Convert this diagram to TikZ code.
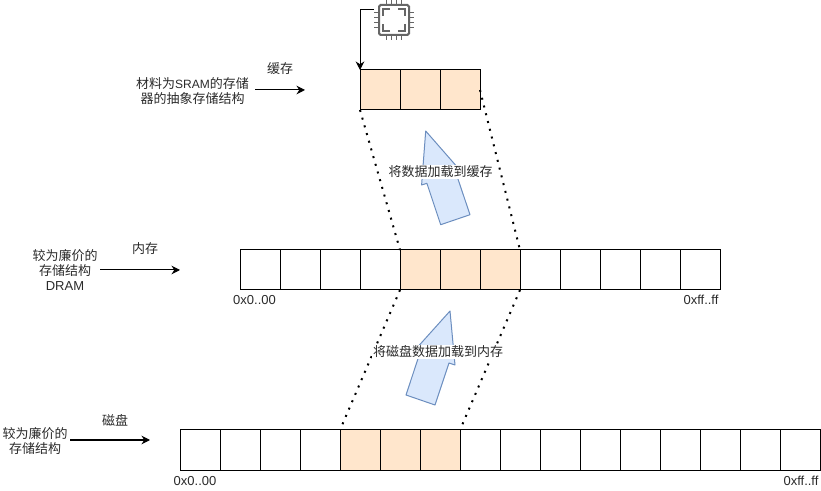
\documentclass[tikz,border=0pt]{standalone}
\usepackage{fontspec}
\setmainfont{Liberation Sans}
\newfontfamily\cjk{Noto Sans CJK SC}
\usetikzlibrary{arrows.meta}
\definecolor{cellfill}{HTML}{FFE6CC}
\definecolor{arrowfill}{HTML}{DAE8FC}
\definecolor{arrowline}{HTML}{6C8EBF}
\definecolor{chipgray}{HTML}{666666}
\definecolor{txt}{HTML}{2A2A2A}
\tikzset{
  cellbox/.style={draw=black,line width=.75pt,fill=white,minimum width=30pt,minimum height=30pt,inner sep=0pt,outer sep=0pt},
  hot/.style={cellbox,fill=cellfill},
  txtlabel/.style={inner sep=0pt,font=\fontsize{9.75pt}{11pt}\selectfont,text=txt,align=center},
  band/.style={draw=black,line width=.75pt,-{Stealth[length=6.4pt,width=6.4pt]}},
  dots/.style={draw=black,line width=1.5pt,dash pattern=on 1.5pt off 4.5pt},
  bigarrow/.style={draw=arrowline,fill=arrowfill,line width=.75pt,line join=round},
  chip/.style={draw=chipgray,line width=1.5pt}
}
\begin{document}
\begin{tikzpicture}[x=0.75pt,y=-0.75pt]
\useasboundingbox (0,0) rectangle (821,491);
\coordinate (dtr) at (480,90);
% cache cells
\foreach \i in {1,2,3}
  \node[hot] (c\i) at ({360+40*\i-20},90) {};
% memory cells
\foreach \i in {1,...,12}{
  \ifnum\i>4 \ifnum\i<8 \def\st{hot}\else\def\st{cellbox}\fi\else\def\st{cellbox}\fi
  \node[\st] (m\i) at ({240+40*\i-20},270) {};
}
% disk cells
\foreach \i in {1,...,16}{
  \ifnum\i>4 \ifnum\i<8 \def\st{hot}\else\def\st{cellbox}\fi\else\def\st{cellbox}\fi
  \node[\st] (d\i) at ({180+40*\i-20},450) {};
}
% dotted connectors
\draw[dots] (c1.south west) -- (m5.north west);
\draw[dots] (dtr) -- (m7.north east);
\draw[dots] (m5.south west) -- (d5.north west);
\draw[dots] (m7.south east) -- (d7.north east);
% large arrows
\draw[bigarrow] (425.7,131) -- (461.4,171.8) -- (456.1,173.5) -- (470,214.7) -- (440.7,224.7) -- (426.9,183.3) -- (421.6,185) -- cycle;
\draw[bigarrow] (450,311) -- (455,365) -- (449,363) -- (435,405) -- (406,395) -- (419.8,353.3) -- (413.8,351.3) -- cycle;
\node[txtlabel,fill=white,inner xsep=.75pt,inner ysep=.75pt] (up1) at (440.5,172) {\cjk 将数据加载到缓存};
\node[txtlabel,fill=white,inner xsep=.75pt,inner ysep=.75pt] (up2) at (438,352) {\cjk 将磁盘数据加载到内存};
% chip
\node[chip,rounded corners=1.2pt,minimum width=22.5pt,minimum height=22.5pt,inner sep=0pt,outer sep=0pt] (cpu) at (394,20) {};
\foreach \d in {-7.5,-2.5,2.5,7.5}{
  \draw[chipgray,line width=1pt] ([xshift=\d*0.75pt]cpu.north) -- ++(0,-5);
  \draw[chipgray,line width=1pt] ([xshift=\d*0.75pt]cpu.south) -- ++(0,5);
  \draw[chipgray,line width=1pt] ([yshift=\d*0.75pt]cpu.west) -- ++(-5,0);
  \draw[chipgray,line width=1pt] ([yshift=\d*0.75pt]cpu.east) -- ++(5,0);
}
\draw[chip] (383,16) -- (383,9) -- (390,9);
\draw[chip] (398,9) -- (405,9) -- (405,16);
\draw[chip] (405,24) -- (405,31) -- (398,31);
\draw[chip] (390,31) -- (383,31) -- (383,24);
\coordinate (cpuout) at (374,10);
\draw[band] (cpuout) -- (360,10) -- (c1.north west);
% side labels
\node[txtlabel] (t1) at (192.5,91) {{\cjk 材料为}{\fontsize{9pt}{11pt}\selectfont SRAM}{\cjk 的存储}\\{\cjk 器的抽象存储结构}};
\node[txtlabel] (n1) at (280,69) {\cjk 缓存};
\coordinate (a1s) at (255,90); \coordinate (a1e) at (305,90);
\draw[band] (a1s) -- (a1e);
\node[txtlabel] (t2) at (65,270) {{\cjk 较为廉价的}\\{\cjk 存储结构}\\DRAM};
\node[txtlabel] (n2) at (145,249) {\cjk 内存};
\coordinate (a2s) at (100,270); \coordinate (a2e) at (180,270);
\draw[band] (a2s) -- (a2e);
\node[txtlabel] (t3) at (35,441) {{\cjk 较为廉价的}\\{\cjk 存储结构}};
\node[txtlabel] (n3) at (115,420) {\cjk 磁盘};
\coordinate (a3s) at (70,440); \coordinate (a3e) at (150,440);
\draw[band] (a3s) -- (a3e);
% addresses
\node[txtlabel] (m0) at (254.5,300) {0x0..00};
\node[txtlabel] (mf) at (701,300) {0xff..ff};
\node[txtlabel] (d0) at (195,481) {0x0..00};
\node[txtlabel] (df) at (801,481) {0xff..ff};
\end{tikzpicture}
\end{document}
